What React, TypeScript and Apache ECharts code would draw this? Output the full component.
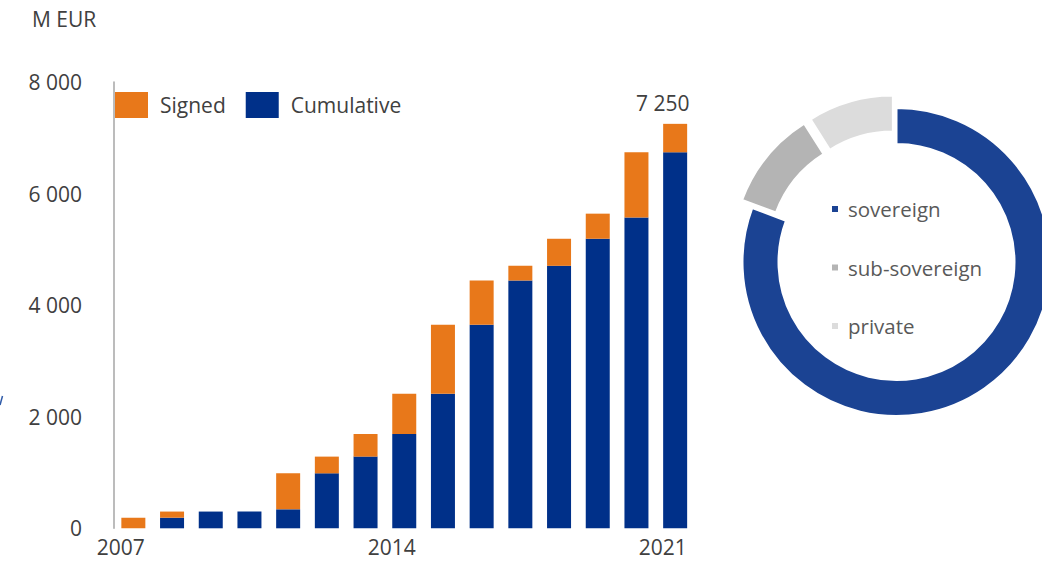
import React, { useEffect, useRef } from "react";
import * as echarts from "echarts";

const years = ["2007", "2008", "2009", "2010", "2011", "2012", "2013", "2014", "2015", "2016", "2017", "2018", "2019", "2020", "2021"];
const cumulative = [0, 190, 300, 300, 340, 985, 1285, 1690, 2410, 3650, 4440, 4705, 5190, 5570, 6740];
const signed = [190, 110, 0, 0, 645, 300, 405, 720, 1240, 790, 265, 485, 450, 1170, 510];
const totalLabel = "7 250";
const yMin = 0;
const yMax = 8000;
const yStep = 2000;
const unitLabel = "M EUR";
const portfolioNames = ["sovereign", "sub-sovereign", "private"];
const portfolioValues = [5850, 750, 650];

const FONT = "Open Sans";
const TEXT = "#404040";
const ORANGE = "#e8781a";
const BLUE = "#003089";
const PIE_COLORS = ["#1b4393", "#b4b4b4", "#dcdcdc"];

export default function App() {
  const ref = useRef<HTMLDivElement>(null);

  useEffect(() => {
    if (!ref.current) return;
    const chart = echarts.init(ref.current, undefined, { renderer: "svg" });

    const signedData = signed.map((v, i) =>
      i === signed.length - 1
        ? {
            value: v,
            label: {
              show: true,
              position: "top",
              distance: 10,
              formatter: totalLabel,
              fontFamily: FONT,
              fontSize: 21,
              color: TEXT,
              padding: [0, 25, 0, 0],
            },
          }
        : v
    );

    chart.setOption({
      animation: false,
      textStyle: { fontFamily: FONT },
      graphic: [
        {
          type: "text",
          x: 32,
          y: 19,
          style: {
            text: unitLabel,
            fontFamily: FONT,
            fontSize: 21,
            fill: TEXT,
            verticalAlign: "middle",
          },
        },
        {
          type: "line",
          shape: { x1: 0, y1: 405, x2: 2.5, y2: 396 },
          style: { stroke: "#2e5aa8", lineWidth: 1.5 },
        },
      ],
      legend: [
        {
          data: ["Signed", "Cumulative"],
          left: 115,
          top: 92,
          padding: 0,
          icon: "rect",
          itemWidth: 33,
          itemHeight: 26,
          itemGap: 20,
          selectedMode: false,
          textStyle: { fontFamily: FONT, fontSize: 21, color: TEXT, padding: [0, 0, 0, 7] },
        },
        {
          data: portfolioNames,
          orient: "vertical",
          left: 830,
          top: 197,
          padding: 0,
          icon: "rect",
          itemWidth: 8,
          itemHeight: 8,
          itemGap: 34.5,
          selectedMode: false,
          textStyle: { fontFamily: FONT, fontSize: 20.5, color: "#595959", lineHeight: 24, padding: [0, 0, 0, 4] },
        },
      ],
      grid: { left: 114, right: 347.5, top: 82, bottom: 33.7, containLabel: false },
      xAxis: {
        type: "category",
        data: years,
        axisLine: { show: false },
        axisTick: { show: false },
        axisLabel: {
          interval: 6,
          fontFamily: FONT,
          fontSize: 21,
          color: TEXT,
          margin: 8,
          padding: [0, 25, 0, 0],
        },
      },
      yAxis: {
        type: "value",
        min: yMin,
        max: yMax,
        interval: yStep,
        splitLine: { show: false },
        axisTick: { show: false },
        axisLine: { show: true, lineStyle: { color: "#a6a6a6", width: 1.5 } },
        axisLabel: {
          fontFamily: FONT,
          fontSize: 21,
          color: TEXT,
          margin: 32,
          formatter: (v: number) => String(v).replace(/\B(?=(\d{3})+(?!\d))/g, " "),
        },
      },
      series: [
        {
          name: "Cumulative",
          type: "bar",
          stack: "total",
          data: cumulative,
          barWidth: 24,
          itemStyle: { color: BLUE },
          silent: true,
        },
        {
          name: "Signed",
          type: "bar",
          stack: "total",
          data: signedData,
          barWidth: 24,
          itemStyle: { color: ORANGE },
          silent: true,
        },
        {
          name: "portfolio",
          type: "pie",
          center: [896.5, 262],
          radius: [118, 154],
          startAngle: 90,
          clockwise: true,
          selectedMode: "multiple",
          selectedOffset: 13,
          silent: true,
          label: { show: false },
          labelLine: { show: false },
          itemStyle: { borderColor: "#ffffff", borderWidth: 2 },
          emphasis: { disabled: true },
          data: portfolioNames.map((n, i) => ({
            name: n,
            value: portfolioValues[i],
            selected: i > 0,
            itemStyle: { color: PIE_COLORS[i] },
          })),
        },
      ],
    });

    return () => chart.dispose();
  }, []);

  return (
    <div
      ref={ref}
      style={{ position: "fixed", left: 0, top: 0, width: 1042, height: 562, background: "#ffffff" }}
    />
  );
}
